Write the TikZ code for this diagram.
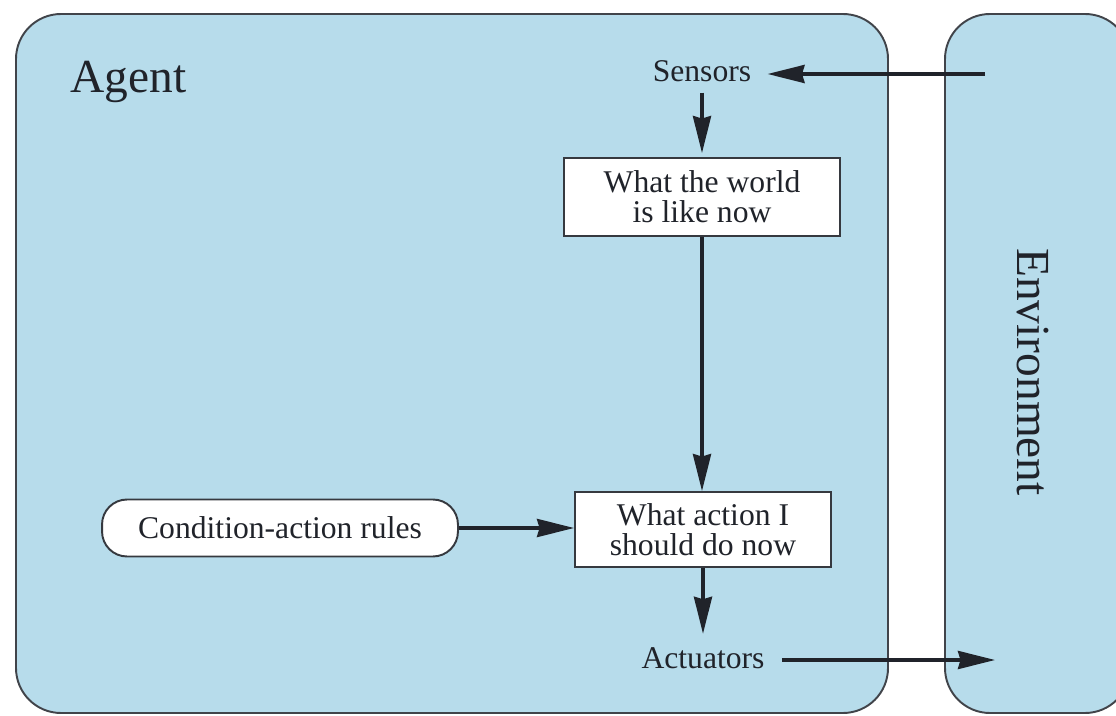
\documentclass[tikz,border=0pt]{standalone}
\usepackage{fontspec}
\setmainfont{Liberation Serif}
\usetikzlibrary{arrows.meta}
\definecolor{regionfill}{RGB}{183,220,235}
\definecolor{ink}{RGB}{32,35,42}
\begin{document}
\begin{tikzpicture}[x=0.02cm,y=-0.02cm,
  region/.style={draw=ink!85, line width=1.1pt, fill=regionfill, rounded corners=0.9cm},
  procbox/.style={draw=ink!90, line width=1.1pt, fill=white, align=center, text=ink,
    font=\fontsize{18}{17}\selectfont, inner sep=0pt},
  rulebox/.style={draw=ink!90, line width=1.1pt, fill=white, text=ink,
    font=\fontsize{18}{20}\selectfont, rounded corners=0.5cm, inner sep=0pt,
    minimum width=7.12cm, minimum height=1.14cm},
  io/.style={text=ink, font=\fontsize{18}{20}\selectfont, inner sep=0pt, anchor=base},
  bigtitle/.style={text=ink, font=\fontsize{27}{30}\selectfont, inner sep=0pt},
  flow/.style={draw=ink, line width=2pt, -{Stealth[length=0.74cm,width=0.36cm,inset=0.05cm]}}
]
\useasboundingbox (0,0) rectangle (1116,716);

% agent and environment regions
\begin{scope}
  \clip (0,0) rectangle (1116,716);
  \draw[region] (16,14) rectangle (888,713);
  \draw[region] (945,14) rectangle (1130,713);
\end{scope}

\node[bigtitle, anchor=base west] (agent) at (70,93) {Agent};
\node[bigtitle, rotate=-90] (env) at (1033,372) {Environment};

% agent internals
\node[io] (sensors) at (702,82) {Sensors};
\node[procbox, minimum width=5.52cm, minimum height=1.56cm] (world) at (702,197)
  {What the world\\is like now};
\node[procbox, minimum width=5.12cm, minimum height=1.5cm] (action) at (703,529.5)
  {What action I\\should do now};
\node[rulebox] (rules) at (280,528) {Condition-action rules};
\node[io] (actuators) at (703,668) {Actuators};

% free ends inside the environment
\coordinate (envS) at (985,74);
\coordinate (envA) at (995,660);

% connectors
\draw[flow, shorten >=0.32cm] (envS) -- (envS -| sensors.east);
\draw[flow, shorten <=0.2cm, shorten >=0.08cm] (sensors.south) -- (world.north);
\draw[flow] (world.south) -- (world.south |- action.north);
\draw[flow] (rules.east) -- (rules.east -| action.west);
\draw[flow, shorten >=0.26cm] (action.south) -- (actuators.north);
\draw[flow, shorten <=0.34cm] (actuators.east |- envA) -- (envA);
\end{tikzpicture}
\end{document}
